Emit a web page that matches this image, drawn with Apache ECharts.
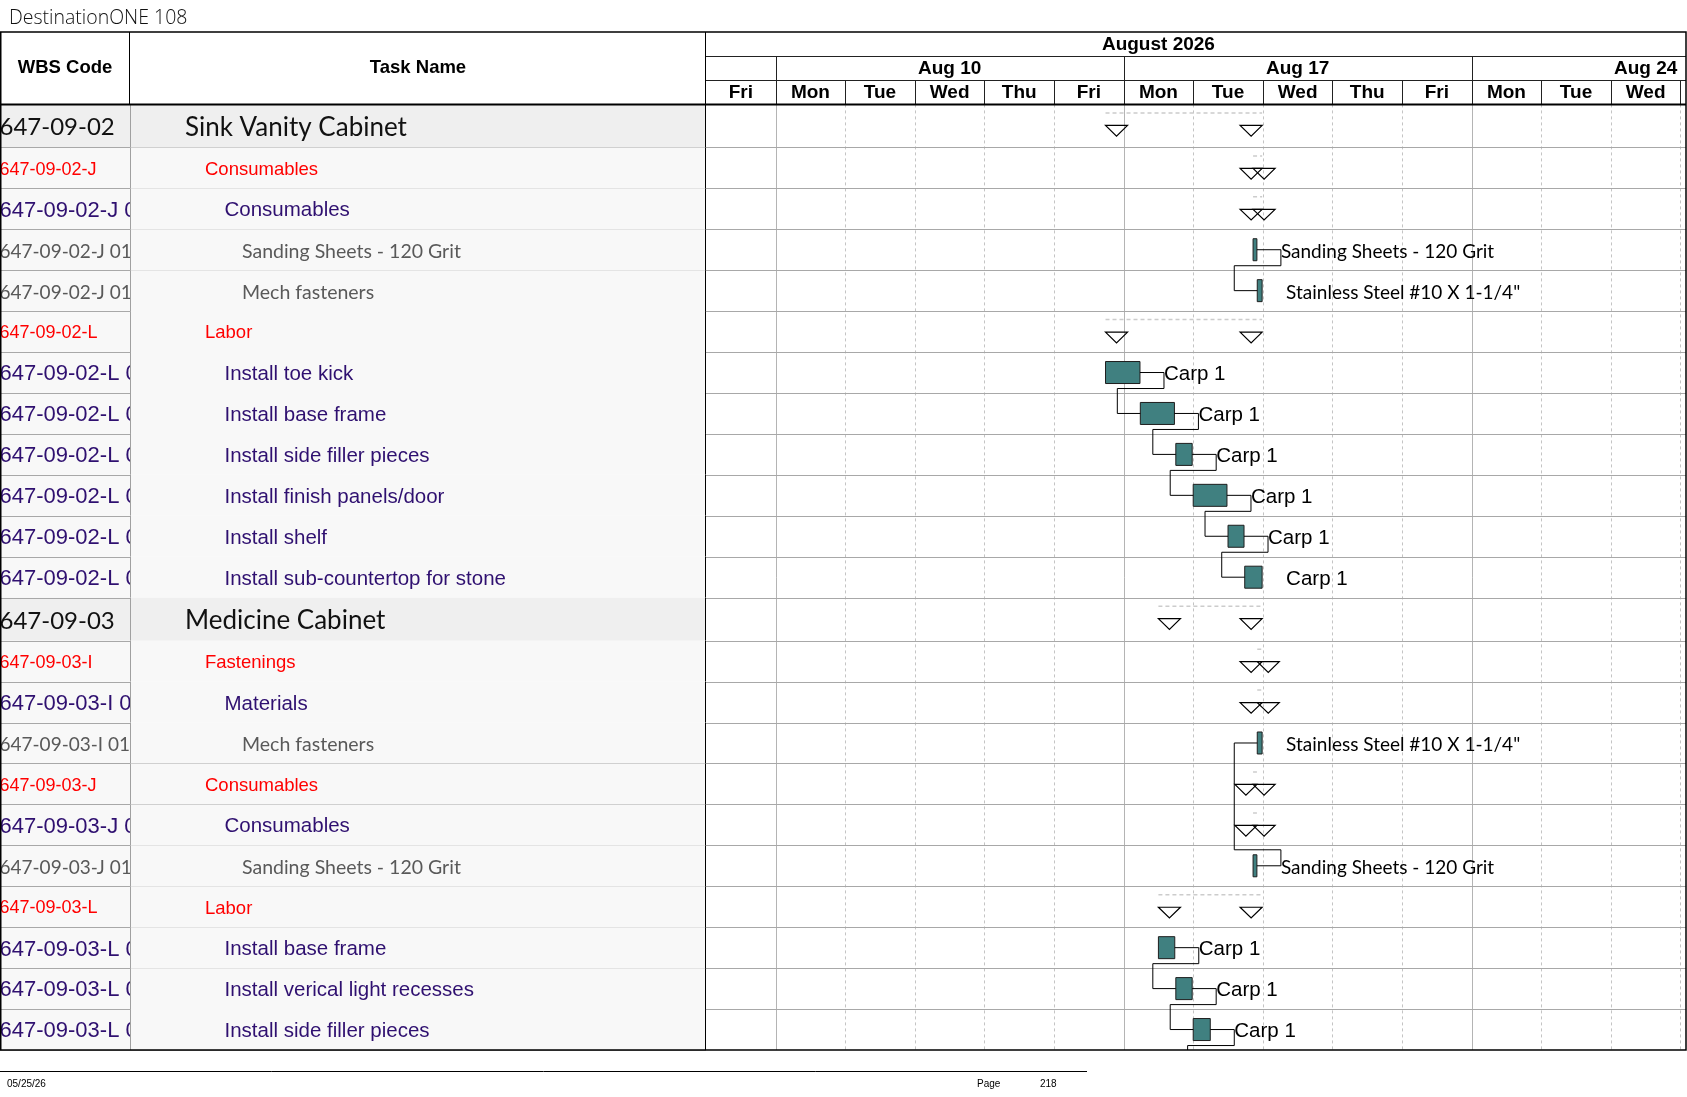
<!DOCTYPE html>
<html>
<head>
<meta charset="utf-8">
<title>DestinationONE 108</title>
<script src="https://cdn.jsdelivr.net/npm/echarts@6/dist/echarts.min.js"></script>
<style>
    html,
    body {
        margin: 0;
        padding: 0;
        background: #ffffff;
    }

    #chart {
        width: 1687px;
        height: 1097px;
    }
</style>
</head>
<body>
<div id="chart"></div>
<script>
/*
================================================
Gantt page: Sink Vanity / Medicine Cabinet
1. Task table (WBS + names)
2. Timescale header
3. Bars, summaries, labels
4. Links
================================================
*/

// ========================================
// Data
// ========================================

const pageTitle = "DestinationONE 108";

const wbsCodes = [
    "647-09-02",
    "647-09-02-J",
    "647-09-02-J 01",
    "647-09-02-J 01-01",
    "647-09-02-J 01-02",
    "647-09-02-L",
    "647-09-02-L 01",
    "647-09-02-L 02",
    "647-09-02-L 03",
    "647-09-02-L 04",
    "647-09-02-L 05",
    "647-09-02-L 06",
    "647-09-03",
    "647-09-03-I",
    "647-09-03-I 01",
    "647-09-03-I 01-01",
    "647-09-03-J",
    "647-09-03-J 01",
    "647-09-03-J 01-01",
    "647-09-03-L",
    "647-09-03-L 01",
    "647-09-03-L 02",
    "647-09-03-L 03"
];

const taskNames = [
    "Sink Vanity Cabinet",
    "Consumables",
    "Consumables",
    "Sanding Sheets - 120 Grit",
    "Mech fasteners",
    "Labor",
    "Install toe kick",
    "Install base frame",
    "Install side filler pieces",
    "Install finish panels/door",
    "Install shelf",
    "Install sub-countertop for stone",
    "Medicine Cabinet",
    "Fastenings",
    "Materials",
    "Mech fasteners",
    "Consumables",
    "Consumables",
    "Sanding Sheets - 120 Grit",
    "Labor",
    "Install base frame",
    "Install verical light recesses",
    "Install side filler pieces"
];

const outlineLevels = [
    0, 1, 2, 3, 3, 1, 2, 2, 2, 2, 2, 2,
    0, 1, 2, 3, 1, 2, 3, 1, 2, 2, 2
];

// working days counted from Fri Aug 7 (weekends skipped)
const taskStart = [
    5.74, 7.86, 7.86, 7.86, 7.92, 5.74, 5.74, 6.24, 6.75, 7.00, 7.50, 7.74,
    6.50, 7.92, 7.92, 7.92, 7.86, 7.86, 7.86, 6.50, 6.50, 6.75, 7.00
];

const taskEnd = [
    7.99, 7.99, 7.99, 7.915, 7.99, 7.99, 6.235, 6.73, 6.985, 7.485, 7.73, 7.99,
    7.99, 7.99, 7.99, 7.99, 7.915, 7.915, 7.915, 7.99, 6.735, 6.985, 7.245
];

const resourceNames = [
    "", "", "",
    "Sanding Sheets - 120 Grit",
    "Stainless Steel #10 X 1-1/4\"",
    "",
    "Carp 1", "Carp 1", "Carp 1", "Carp 1", "Carp 1", "Carp 1",
    "", "", "",
    "Stainless Steel #10 X 1-1/4\"",
    "", "",
    "Sanding Sheets - 120 Grit",
    "",
    "Carp 1", "Carp 1", "Carp 1"
];

const linkFrom = [3, 6, 7, 8, 9, 10, 18, 20, 21, 22];
const linkTo = [4, 7, 8, 9, 10, 11, 15, 21, 22, 23];
// first task on the following page (row 23)
const nextPageStart = 7.25;

const dayNames = [
    "Fri", "Mon", "Tue", "Wed", "Thu", "Fri", "Mon",
    "Tue", "Wed", "Thu", "Fri", "Mon", "Tue", "Wed"
];
const weekLabels = ["Aug 10", "Aug 17", "Aug 24"];
const weekStartDays = [1, 6, 11];
const monthLabel = "August 2026";
const monthStartDay = -4;
const monthEndDay = 17;

const headerColumns = ["WBS Code", "Task Name"];
const footerDate = "05/25/26";
const footerPageWord = "Page";
const footerPage = "218";

// ========================================
// Layout / styles
// ========================================

const TABLE_W = 706;
const WBS_W = 130;
const GANTT_W = 980;
const HEAD_TOP = 32;
const HEAD_H = 72.4;
const BODY_TOP = 104.4;
const BODY_H = 945.6;
const VISIBLE_DAYS = 14.08;
const BAR_H = 22;
const TEXT_DY = 1.8;

const ARIAL = "'Liberation Sans', Arial, sans-serif";
const CALIBRI = "Lato, 'Open Sans', sans-serif";

const levelStyles = [{
    bg: "#efefef",
    color: "#111111",
    wbsFont: "24px " + CALIBRI,
    nameFont: "26px " + CALIBRI,
    indent: 55
}, {
    bg: "#f8f8f8",
    color: "#ff0000",
    wbsFont: "18px " + ARIAL,
    nameFont: "18.5px " + ARIAL,
    indent: 75
}, {
    bg: "#f8f8f8",
    color: "#2f1070",
    wbsFont: "22px " + ARIAL,
    nameFont: "20.5px " + ARIAL,
    indent: 94.5
}, {
    bg: "#f8f8f8",
    color: "#595959",
    wbsFont: "19px " + CALIBRI,
    nameFont: "19.5px " + CALIBRI,
    indent: 112
}];

const ROW_LINE = "#a8a8a8";

// row geometry in axis units (group rows are a little taller)
const rowWeights =
    outlineLevels.map(
        l => l === 0 ? 1.05 : 1
    );
const rowTops = [];
let yMax = 0;
rowWeights.forEach(
    w => {
        rowTops.push(yMax);
        yMax += w;
    }
);

function isSummary(i) {
    return i + 1 < outlineLevels.length &&
        outlineLevels[i + 1] > outlineLevels[i];
}

function rowBox(api, i) {
    const top = api.coord([0, rowTops[i]])[1];
    const bottom = api.coord([0, rowTops[i] + rowWeights[i]])[1];
    return {
        top: top,
        bottom: bottom,
        mid: (top + bottom) / 2
    };
}

// ========================================
// Table body
// ========================================

function renderWbsCell(params, api) {
    const i = params.dataIndex;
    const cs = params.coordSys;
    const st = levelStyles[outlineLevels[i]];
    const box = rowBox(api, i);

    return {
        type: "group",
        children: [{
            type: "rect",
            shape: {
                x: cs.x,
                y: box.top,
                width: WBS_W,
                height: box.bottom - box.top
            },
            style: {
                fill: st.bg
            }
        }, {
            type: "text",
            style: {
                text: wbsCodes[i],
                x: cs.x - 0.5,
                y: box.mid + TEXT_DY,
                fill: st.color,
                font: st.wbsFont,
                align: "left",
                verticalAlign: "middle"
            }
        }]
    };
}

function renderNameCell(params, api) {
    const i = params.dataIndex;
    const cs = params.coordSys;
    const st = levelStyles[outlineLevels[i]];
    const box = rowBox(api, i);
    const colX = cs.x + WBS_W;

    return {
        type: "group",
        children: [{
            type: "rect",
            shape: {
                x: colX,
                y: box.top,
                width: cs.width - WBS_W,
                height: box.bottom - box.top
            },
            style: {
                fill: st.bg
            }
        }, {
            type: "text",
            style: {
                text: taskNames[i],
                x: colX + st.indent,
                y: box.mid + TEXT_DY,
                fill: st.color,
                font: st.nameFont,
                align: "left",
                verticalAlign: "middle"
            }
        }, {
            type: "line",
            shape: {
                x1: cs.x,
                y1: Math.round(box.bottom) + 0.5,
                x2: cs.x + cs.width,
                y2: Math.round(box.bottom) + 0.5
            },
            style: {
                stroke: ROW_LINE,
                lineWidth: 1
            }
        }, {
            type: "line",
            shape: {
                x1: colX + 0.5,
                y1: box.top,
                x2: colX + 0.5,
                y2: box.bottom
            },
            style: {
                stroke: "#a0a0a0",
                lineWidth: 1
            }
        }, {
            type: "line",
            shape: {
                x1: cs.x + cs.width - 0.5,
                y1: box.top,
                x2: cs.x + cs.width - 0.5,
                y2: box.bottom
            },
            style: {
                stroke: "#000000",
                lineWidth: 1
            }
        }]
    };
}

// ========================================
// Gantt body
// ========================================

function renderDayLine(params, api) {
    const d = params.dataIndex + 1;
    const cs = params.coordSys;
    const x = Math.round(api.coord([d, 0])[0]) + 0.5;
    const monday = dayNames[d] === "Mon";

    return {
        type: "line",
        shape: {
            x1: x,
            y1: cs.y,
            x2: x,
            y2: cs.y + cs.height
        },
        style: {
            stroke: monday ? "#b4b4b4" : "#c4c4c4",
            lineWidth: 1,
            lineDash: monday ? null : [3, 3]
        }
    };
}

function renderTaskRow(params, api) {
    const i = params.dataIndex;
    const cs = params.coordSys;
    const box = rowBox(api, i);
    const xs = api.coord([taskStart[i], 0])[0];
    const xe = api.coord([taskEnd[i], 0])[0];
    const lineY = Math.round(box.bottom) + 0.5;

    let children = [{
        type: "line",
        shape: {
            x1: cs.x,
            y1: lineY,
            x2: cs.x + cs.width,
            y2: lineY
        },
        style: {
            stroke: ROW_LINE,
            lineWidth: 1
        }
    }];

    if (isSummary(i)) {
        const dashY = box.top + 8.5;
        const triTop = box.top + 21;
        children.push({
            type: "line",
            shape: {
                x1: xs,
                y1: dashY,
                x2: xe,
                y2: dashY
            },
            style: {
                stroke: "#cccccc",
                lineWidth: 1.5,
                lineDash: [4, 3]
            }
        });
        [xe - 22, xs].forEach(
            x0 => {
                children.push({
                    type: "polygon",
                    shape: {
                        points: [
                            [x0, triTop],
                            [x0 + 22, triTop],
                            [x0 + 11, triTop + 10.7]
                        ]
                    },
                    style: {
                        fill: "none",
                        stroke: "#000000",
                        lineWidth: 1.2
                    }
                });
            }
        );
    } else {
        children.push({
            type: "rect",
            shape: {
                x: xs,
                y: box.mid - BAR_H / 2,
                width: Math.max(xe - xs, 2),
                height: BAR_H
            },
            style: {
                fill: "#408080",
                stroke: "#1e1e1e",
                lineWidth: 1
            }
        });
        if (resourceNames[i]) {
            const material = outlineLevels[i] === 3;
            children.push({
                type: "text",
                style: {
                    text: resourceNames[i],
                    x: xe + 24,
                    y: box.mid + TEXT_DY,
                    fill: "#000000",
                    font: material ?
                        "19px " + CALIBRI : "20.5px " + ARIAL,
                    align: "left",
                    verticalAlign: "middle"
                }
            });
        }
    }

    return {
        type: "group",
        children: children
    };
}

function renderLink(params, api) {
    const k = params.dataIndex;
    const cs = params.coordSys;
    const from = linkFrom[k];
    const to = linkTo[k];
    const fromBox = rowBox(api, from);

    const p0 = [
        api.coord([taskEnd[from], 0])[0],
        fromBox.mid
    ];
    const x1 = p0[0] + 24;
    const down = to > from;
    const yMid = down ?
        p0[1] + BAR_H / 2 + 5 :
        p0[1] - BAR_H / 2 - 5;

    let toStart;
    let toY;
    let onPage = to < outlineLevels.length;
    if (onPage) {
        toStart = taskStart[to];
        toY = rowBox(api, to).mid;
    } else {
        toStart = nextPageStart;
        toY = cs.y + cs.height;
    }
    const xTo = api.coord([toStart, 0])[0];
    const x2 = xTo - 23;

    let points = [
        p0,
        [x1, p0[1]],
        [x1, yMid],
        [x2, yMid],
        [x2, toY]
    ];
    if (onPage) {
        points.push([xTo, toY]);
    }

    return {
        type: "polyline",
        shape: {
            points: points
        },
        style: {
            stroke: "#000000",
            lineWidth: 1,
            fill: "none"
        }
    };
}

// ========================================
// Headers
// ========================================

const HEAD_FONT = "bold 19px " + ARIAL;

function renderDayHead(params, api) {
    const d = params.dataIndex;
    const left = api.coord([d, 2]);
    const right = api.coord([d + 1, 3]);
    const x = Math.round(right[0]) + 0.5;

    return {
        type: "group",
        children: [{
            type: "text",
            style: {
                text: dayNames[d],
                x: (left[0] + right[0]) / 2,
                y: (left[1] + right[1]) / 2 + 0.5,
                fill: "#000000",
                font: HEAD_FONT,
                align: "center",
                verticalAlign: "middle"
            }
        }, {
            type: "line",
            shape: {
                x1: x,
                y1: left[1],
                x2: x,
                y2: right[1]
            },
            style: {
                stroke: "#222222",
                lineWidth: 1
            }
        }]
    };
}

function renderWeekHead(params, api) {
    const w = params.dataIndex;
    const s = weekStartDays[w];
    const top = api.coord([s, 1]);
    const bottom = api.coord([s, 2]);
    const center = api.coord([s + 2.5, 1.5]);
    const x = Math.round(top[0]) + 0.5;

    return {
        type: "group",
        children: [{
            type: "text",
            style: {
                text: weekLabels[w],
                x: center[0],
                y: center[1] + 0.5,
                fill: "#000000",
                font: HEAD_FONT,
                align: "center",
                verticalAlign: "middle"
            }
        }, {
            type: "line",
            shape: {
                x1: x,
                y1: top[1],
                x2: x,
                y2: bottom[1]
            },
            style: {
                stroke: "#222222",
                lineWidth: 1
            }
        }]
    };
}

function renderMonthHead(params, api) {
    const cs = params.coordSys;
    const center = api.coord([
        (monthStartDay + monthEndDay) / 2,
        0.5
    ]);
    const y1 = Math.round(api.coord([0, 1])[1]) + 0.5;
    const y2 = Math.round(api.coord([0, 2])[1]) + 0.5;

    return {
        type: "group",
        children: [{
            type: "text",
            style: {
                text: monthLabel,
                x: center[0],
                y: center[1] + 1,
                fill: "#000000",
                font: HEAD_FONT,
                align: "center",
                verticalAlign: "middle"
            }
        }, {
            type: "line",
            shape: {
                x1: cs.x,
                y1: y1,
                x2: cs.x + cs.width,
                y2: y1
            },
            style: {
                stroke: "#222222",
                lineWidth: 1
            }
        }, {
            type: "line",
            shape: {
                x1: cs.x,
                y1: y2,
                x2: cs.x + cs.width,
                y2: y2
            },
            style: {
                stroke: "#222222",
                lineWidth: 1
            }
        }]
    };
}

function renderTableHead(params, api) {
    const c = params.dataIndex;
    const cs = params.coordSys;
    const x0 = c === 0 ? cs.x : cs.x + WBS_W;
    const x1 = c === 0 ? cs.x + WBS_W : cs.x + cs.width;
    const yMid = api.coord([0, 1.5])[1];

    return {
        type: "group",
        children: [{
            type: "text",
            style: {
                text: headerColumns[c],
                x: (x0 + x1) / 2,
                y: yMid,
                fill: "#000000",
                font: "bold 18.5px " + ARIAL,
                align: "center",
                verticalAlign: "middle"
            }
        }, {
            type: "line",
            shape: {
                x1: x1 - 0.5,
                y1: cs.y,
                x2: x1 - 0.5,
                y2: cs.y + cs.height
            },
            style: {
                stroke: "#000000",
                lineWidth: 1
            }
        }]
    };
}

// ========================================
// Chart
// ========================================

function indexData(arr) {
    return arr.map(
        (_, i) => [0, 0, i]
    );
}

const chart =
    echarts.init(
        document.getElementById("chart")
    );

chart.setOption({
    animation: false,
    backgroundColor: "#ffffff",
    title: {
        text: pageTitle,
        left: 4,
        top: 3,
        textStyle: {
            fontFamily: "'Open Sans', sans-serif",
            fontWeight: 300,
            fontSize: 19.5,
            color: "#111111"
        }
    },
    grid: [{
        left: 0,
        top: BODY_TOP,
        width: TABLE_W,
        height: BODY_H
    }, {
        left: TABLE_W,
        top: BODY_TOP,
        width: GANTT_W,
        height: BODY_H
    }, {
        left: TABLE_W,
        top: HEAD_TOP,
        width: GANTT_W,
        height: HEAD_H
    }, {
        left: 0,
        top: HEAD_TOP,
        width: TABLE_W,
        height: HEAD_H
    }],
    xAxis: [{
        gridIndex: 0, type: "value", min: 0, max: 1, show: false
    }, {
        gridIndex: 1, type: "value", min: 0, max: VISIBLE_DAYS, show: false
    }, {
        gridIndex: 2, type: "value", min: 0, max: VISIBLE_DAYS, show: false
    }, {
        gridIndex: 3, type: "value", min: 0, max: 1, show: false
    }],
    yAxis: [{
        gridIndex: 0, type: "value", min: 0, max: yMax, inverse: true, show: false
    }, {
        gridIndex: 1, type: "value", min: 0, max: yMax, inverse: true, show: false
    }, {
        gridIndex: 2, type: "value", min: 0, max: 3, inverse: true, show: false
    }, {
        gridIndex: 3, type: "value", min: 0, max: 3, inverse: true, show: false
    }],
    series: [{
        type: "custom",
        name: "wbs",
        xAxisIndex: 0,
        yAxisIndex: 0,
        z: 2,
        data: indexData(wbsCodes),
        renderItem: renderWbsCell
    }, {
        type: "custom",
        name: "names",
        xAxisIndex: 0,
        yAxisIndex: 0,
        z: 3,
        data: indexData(taskNames),
        renderItem: renderNameCell
    }, {
        type: "custom",
        name: "days",
        xAxisIndex: 1,
        yAxisIndex: 1,
        z: 1,
        data: indexData(dayNames),
        renderItem: renderDayLine
    }, {
        type: "custom",
        name: "tasks",
        xAxisIndex: 1,
        yAxisIndex: 1,
        z: 4,
        clip: true,
        data: indexData(taskNames),
        renderItem: renderTaskRow
    }, {
        type: "custom",
        name: "links",
        xAxisIndex: 1,
        yAxisIndex: 1,
        z: 5,
        clip: true,
        data: indexData(linkFrom),
        renderItem: renderLink
    }, {
        type: "custom",
        name: "dayHead",
        xAxisIndex: 2,
        yAxisIndex: 2,
        z: 3,
        clip: true,
        data: indexData(dayNames),
        renderItem: renderDayHead
    }, {
        type: "custom",
        name: "weekHead",
        xAxisIndex: 2,
        yAxisIndex: 2,
        z: 3,
        clip: true,
        data: indexData(weekLabels),
        renderItem: renderWeekHead
    }, {
        type: "custom",
        name: "monthHead",
        xAxisIndex: 2,
        yAxisIndex: 2,
        z: 3,
        clip: true,
        data: [[0, 0, 0]],
        renderItem: renderMonthHead
    }, {
        type: "custom",
        name: "tableHead",
        xAxisIndex: 3,
        yAxisIndex: 3,
        z: 3,
        data: indexData(headerColumns),
        renderItem: renderTableHead
    }],
    graphic: [{
        type: "rect",
        z: 100,
        shape: {
            x: 0.75,
            y: HEAD_TOP,
            width: TABLE_W + GANTT_W - 0.75,
            height: BODY_TOP + BODY_H - HEAD_TOP
        },
        style: {
            fill: "none",
            stroke: "#000000",
            lineWidth: 1.5
        }
    }, {
        type: "line",
        z: 100,
        shape: {
            x1: 0,
            y1: BODY_TOP,
            x2: TABLE_W + GANTT_W,
            y2: BODY_TOP
        },
        style: {
            stroke: "#000000",
            lineWidth: 2
        }
    }, {
        type: "line",
        z: 100,
        shape: {
            x1: 0,
            y1: 1071.5,
            x2: 1087,
            y2: 1071.5
        },
        style: {
            stroke: "#000000",
            lineWidth: 1
        }
    }, {
        type: "text",
        z: 100,
        style: {
            text: footerDate,
            x: 7,
            y: 1084.5,
            fill: "#000000",
            font: "10px " + ARIAL,
            verticalAlign: "middle"
        }
    }, {
        type: "text",
        z: 100,
        style: {
            text: footerPageWord,
            x: 977,
            y: 1084.5,
            fill: "#000000",
            font: "10px " + ARIAL,
            verticalAlign: "middle"
        }
    }, {
        type: "text",
        z: 100,
        style: {
            text: footerPage,
            x: 1040,
            y: 1084.5,
            fill: "#000000",
            font: "10px " + ARIAL,
            verticalAlign: "middle"
        }
    }]
});
</script>
</body>
</html>
